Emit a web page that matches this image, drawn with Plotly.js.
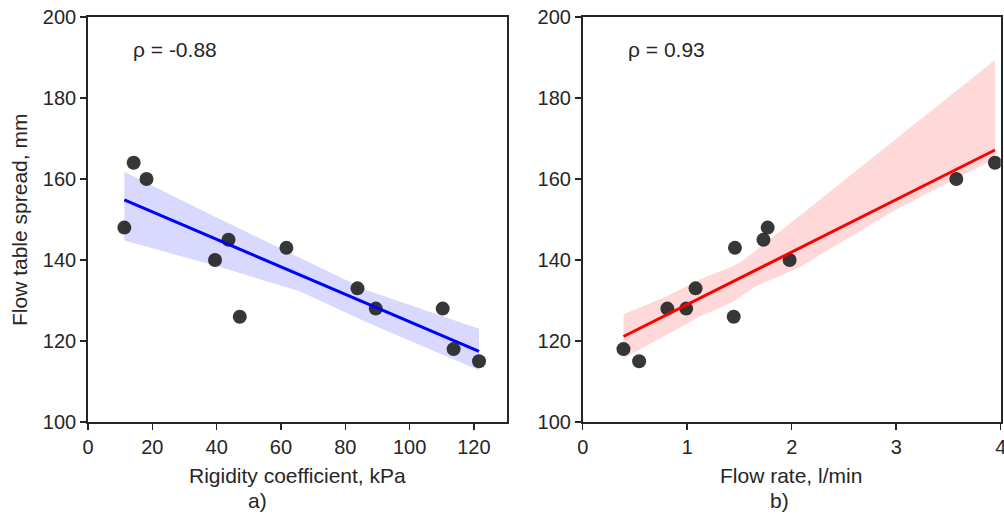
<!DOCTYPE html>
<html>
<head>
<meta charset="utf-8">
<script src="https://cdn.plot.ly/plotly-3.0.1.min.js"></script>
<style>html,body{margin:0;padding:0;background:#fff;}</style>
</head>
<body>
<div id="chart" style="width:1004px;height:515px;"></div>
<script>
// Data: flow table spread (mm) vs rigidity coefficient (kPa) and flow rate (l/min)
const rigidity = [11.3, 14.2, 18.2, 39.5, 43.7, 47.2, 61.7, 83.8, 89.5, 110.3, 113.7, 121.6];
const spreadA  = [148, 164, 160, 140, 145, 126, 143, 133, 128, 128, 118, 115];
const flowRate = [0.39, 0.54, 0.81, 0.99, 1.08, 1.445, 1.457, 1.73, 1.77, 1.98, 3.575, 3.945];
const spreadB  = [118, 115, 128, 128, 133, 126, 143, 145, 148, 140, 160, 164];

// Confidence bands
const bandAx  = [11.3, 40, 66, 87, 121.6];
const bandAhi = [161.8, 150.5, 140.5, 132.5, 123];
const bandAlo = [144.8, 138.5, 132.2, 124.5, 112.8];
const bandBx  = [0.39, 0.8, 1.12, 1.44, 1.54, 1.66, 2.08, 3.0, 3.945];
const bandBhi = [126.6, 131, 135.2, 138.5, 140, 142.5, 151, 169.9, 189.4];
const bandBlo = [115.7, 121.5, 126, 129.7, 131.5, 133.5, 138.3, 152.5, 165];

const rhoA = "ρ = -0.88";
const rhoB = "ρ = 0.93";
const xTicksA = [0, 20, 40, 60, 80, 100, 120];
const xTicksB = [0, 1, 2, 3, 4];
const yTicks = [100, 120, 140, 160, 180, 200];

function ols(x, y) {
  const n = x.length;
  const mx = x.reduce((a, b) => a + b, 0) / n;
  const my = y.reduce((a, b) => a + b, 0) / n;
  let sxy = 0, sxx = 0;
  for (let i = 0; i < n; i++) { sxy += (x[i] - mx) * (y[i] - my); sxx += (x[i] - mx) ** 2; }
  const b = sxy / sxx;
  return { b: b, a: my - b * mx };
}
function fitLine(x, y) {
  const f = ols(x, y);
  const xmin = Math.min(...x), xmax = Math.max(...x);
  return { x: [xmin, xmax], y: [f.a + f.b * xmin, f.a + f.b * xmax] };
}

const FONT = "Liberation Sans, Arial, sans-serif";
const INK = "#262626";
const TICK = 20, LAB = 21;

function band(xs, lo, hi, color, xa, ya) {
  return {
    x: xs.concat(xs.slice().reverse()),
    y: hi.concat(lo.slice().reverse()),
    type: "scatter", mode: "lines", fill: "toself",
    fillcolor: color, line: { width: 0, color: "rgba(0,0,0,0)" },
    xaxis: xa, yaxis: ya, hoverinfo: "skip", showlegend: false
  };
}
function pts(x, y, xa, ya) {
  return {
    x: x, y: y, type: "scatter", mode: "markers",
    marker: { size: 14, color: "rgba(38,38,38,0.92)", line: { width: 0 } },
    xaxis: xa, yaxis: ya, showlegend: false
  };
}
function reg(l, color, xa, ya) {
  return {
    x: l.x, y: l.y, type: "scatter", mode: "lines",
    line: { color: color, width: 3 }, xaxis: xa, yaxis: ya, showlegend: false
  };
}

const lA = fitLine(rigidity, spreadA);
const lB = fitLine(flowRate, spreadB);

const traces = [
  band(bandAx, bandAlo, bandAhi, "rgba(0,0,255,0.15)", "x", "y"),
  pts(rigidity, spreadA, "x", "y"),
  reg(lA, "#0000ff", "x", "y"),
  band(bandBx, bandBlo, bandBhi, "rgba(255,0,0,0.15)", "x2", "y2"),
  pts(flowRate, spreadB, "x2", "y2"),
  reg(lB, "#ff0000", "x2", "y2")
];

const axBase = {
  showline: true, mirror: true, linecolor: INK, linewidth: 1.8,
  ticks: "outside", ticklen: 6, tickwidth: 1.5, tickcolor: INK,
  showgrid: false, zeroline: false, ticklabeloverflow: "allow",
  tickfont: { family: FONT, size: TICK, color: INK }
};

const yDom = [1 - 422 / 515, 1 - 17 / 515];
const layout = {
  width: 1004, height: 515,
  margin: { l: 0, r: 0, t: 0, b: 0 },
  paper_bgcolor: "#fff", plot_bgcolor: "#fff",
  font: { family: FONT, color: INK },
  xaxis: Object.assign({}, axBase, { domain: [88 / 1004, 507 / 1004], range: [0, 130.3],
    tickvals: xTicksA, ticktext: xTicksA.map(String), anchor: "y" }),
  yaxis: Object.assign({}, axBase, { domain: yDom, range: [100, 200],
    tickvals: yTicks, ticktext: yTicks.map(String), anchor: "x" }),
  xaxis2: Object.assign({}, axBase, { domain: [582.7 / 1004, 1000.7 / 1004], range: [0, 4],
    tickvals: xTicksB, ticktext: xTicksB.map(String), anchor: "y2" }),
  yaxis2: Object.assign({}, axBase, { domain: yDom, range: [100, 200],
    tickvals: yTicks, ticktext: yTicks.map(String), anchor: "x2" }),
  annotations: [
    { text: rhoA, xref: "x", yref: "y", x: 13.3, y: 191.9, xanchor: "left", yanchor: "middle",
      showarrow: false, font: { family: FONT, size: LAB, color: INK } },
    { text: rhoB, xref: "x2", yref: "y2", x: 0.41, y: 191.9, xanchor: "left", yanchor: "middle",
      showarrow: false, font: { family: FONT, size: LAB, color: INK } },
    { text: "Flow table spread, mm", xref: "paper", yref: "paper", x: 19 / 1004, y: 1 - 220 / 515,
      xanchor: "center", yanchor: "middle", textangle: -90, showarrow: false,
      font: { family: FONT, size: LAB, color: INK } },
    { text: "Rigidity coefficient, kPa", xref: "paper", yref: "paper", x: 297 / 1004, y: 1 - 475 / 515,
      xanchor: "center", yanchor: "middle", showarrow: false, font: { family: FONT, size: LAB, color: INK } },
    { text: "a)", xref: "paper", yref: "paper", x: 257 / 1004, y: 1 - 500 / 515,
      xanchor: "center", yanchor: "middle", showarrow: false, font: { family: FONT, size: LAB, color: INK } },
    { text: "Flow rate, l/min", xref: "paper", yref: "paper", x: 791 / 1004, y: 1 - 475 / 515,
      xanchor: "center", yanchor: "middle", showarrow: false, font: { family: FONT, size: LAB, color: INK } },
    { text: "b)", xref: "paper", yref: "paper", x: 779 / 1004, y: 1 - 500 / 515,
      xanchor: "center", yanchor: "middle", showarrow: false, font: { family: FONT, size: LAB, color: INK } }
  ]
};

Plotly.newPlot("chart", traces, layout, { displayModeBar: false, staticPlot: true });
</script>
</body>
</html>
